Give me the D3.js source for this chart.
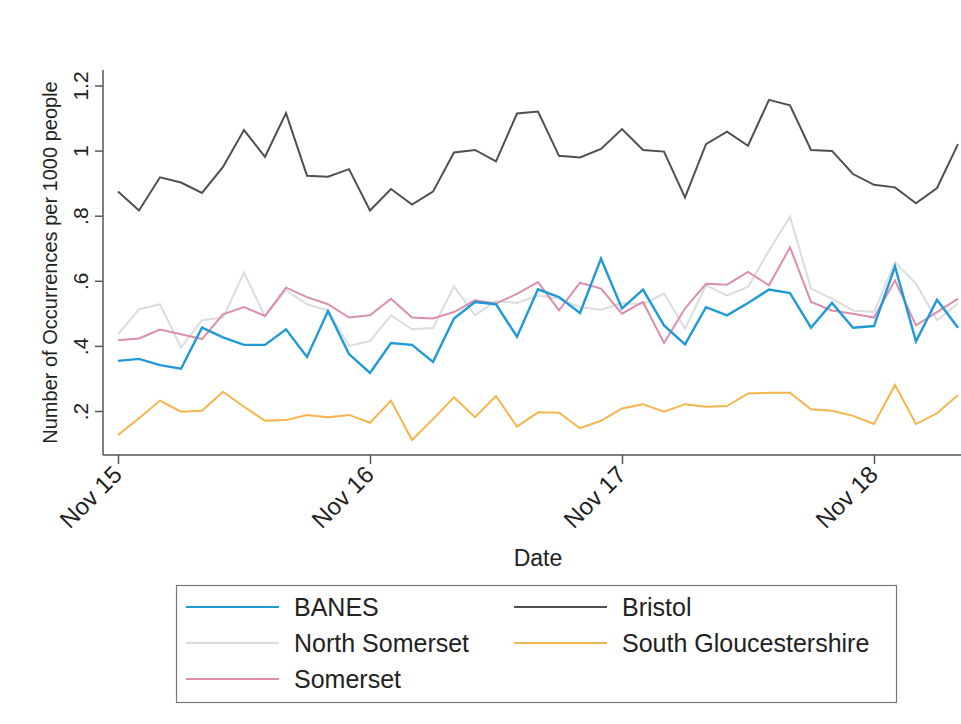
<!DOCTYPE html>
<html>
<head>
<meta charset="utf-8">
<script src="https://cdn.jsdelivr.net/npm/d3@7"></script>
<style>
  body { margin: 0; background: #fff; }
  svg text { font-family: "Liberation Sans", Arial, Helvetica, sans-serif; }
</style>
</head>
<body>
<div id="chart"></div>
<script>
const width = 961;
const height = 724;

const months = [
  "2015-11", "2015-12", "2016-01", "2016-02", "2016-03", "2016-04", "2016-05", "2016-06",
  "2016-07", "2016-08", "2016-09", "2016-10", "2016-11", "2016-12", "2017-01", "2017-02",
  "2017-03", "2017-04", "2017-05", "2017-06", "2017-07", "2017-08", "2017-09", "2017-10",
  "2017-11", "2017-12", "2018-01", "2018-02", "2018-03", "2018-04", "2018-05", "2018-06",
  "2018-07", "2018-08", "2018-09", "2018-10", "2018-11", "2018-12", "2019-01", "2019-02",
  "2019-03"
];
const xTicks = ["2015-11", "2016-11", "2017-11", "2018-11"];
const yTicks = [0.2, 0.4, 0.6, 0.8, 1, 1.2];

const banes = [
  0.354, 0.360, 0.341, 0.330, 0.456, 0.426, 0.403, 0.403, 0.451, 0.366, 0.507, 0.375,
  0.317, 0.409, 0.403, 0.351, 0.484, 0.535, 0.528, 0.428, 0.574, 0.550, 0.501, 0.668,
  0.515, 0.573, 0.463, 0.405, 0.519, 0.494, 0.532, 0.573, 0.562, 0.456, 0.532, 0.456,
  0.461, 0.644, 0.414, 0.542, 0.456
];
const bristol = [
  0.874, 0.816, 0.918, 0.902, 0.870, 0.950, 1.063, 0.981, 1.115, 0.923, 0.920, 0.943,
  0.816, 0.882, 0.834, 0.874, 0.994, 1.002, 0.967, 1.114, 1.120, 0.984, 0.979, 1.005,
  1.066, 1.002, 0.997, 0.856, 1.020, 1.058, 1.015, 1.156, 1.139, 1.002, 0.999, 0.928,
  0.895, 0.887, 0.838, 0.885, 1.020
];
const northSomerset = [
  0.436, 0.512, 0.528, 0.395, 0.479, 0.487, 0.625, 0.491, 0.571, 0.528, 0.509, 0.400,
  0.415, 0.494, 0.451, 0.455, 0.583, 0.494, 0.538, 0.532, 0.555, 0.545, 0.519, 0.511,
  0.532, 0.528, 0.561, 0.453, 0.586, 0.555, 0.581, 0.693, 0.797, 0.576, 0.545, 0.509,
  0.504, 0.657, 0.591, 0.479, 0.530
];
const somerset = [
  0.417, 0.423, 0.450, 0.436, 0.421, 0.497, 0.519, 0.492, 0.579, 0.550, 0.528, 0.487,
  0.494, 0.545, 0.487, 0.484, 0.504, 0.540, 0.530, 0.560, 0.596, 0.509, 0.594, 0.576,
  0.499, 0.535, 0.409, 0.515, 0.591, 0.588, 0.627, 0.586, 0.703, 0.535, 0.509, 0.499,
  0.487, 0.601, 0.463, 0.504, 0.545
];
const southGlos = [
  0.126, 0.178, 0.232, 0.198, 0.201, 0.259, 0.213, 0.170, 0.172, 0.188, 0.181, 0.188,
  0.164, 0.232, 0.111, 0.175, 0.242, 0.181, 0.246, 0.152, 0.196, 0.195, 0.147, 0.170,
  0.208, 0.221, 0.198, 0.221, 0.213, 0.215, 0.254, 0.256, 0.256, 0.205, 0.201, 0.185,
  0.160, 0.280, 0.160, 0.193, 0.249
];

const series = [
  { name: "BANES", values: banes, color: "#1f9ad6", width: 2.4 },
  { name: "Bristol", values: bristol, color: "#505050", width: 2 },
  { name: "North Somerset", values: northSomerset, color: "#dadcde", width: 2 },
  { name: "South Gloucestershire", values: southGlos, color: "#f6b44c", width: 2 },
  { name: "Somerset", values: somerset, color: "#db8fad", width: 2 }
];
// draw order: light ones first, so the blue sits on top
const drawOrder = ["North Somerset", "South Gloucestershire", "Somerset", "Bristol", "BANES"];

const svg = d3.select("#chart")
  .append("svg")
  .attr("width", width)
  .attr("height", height)
  .attr("viewBox", `0 0 ${width} ${height}`);

svg.append("rect")
  .attr("width", width)
  .attr("height", height)
  .attr("fill", "#ffffff");

const x = d3.scalePoint().domain(months).range([118, 958]);
const y = d3.scaleLinear().domain([0.2, 1.2]).range([411, 85.5]);

const axisColor = "#555555";
const plotTop = 70;
const plotBottom = 455;
const plotLeft = 103;

// y axis
const yAxis = svg.append("g")
  .attr("transform", `translate(${plotLeft},0)`)
  .call(d3.axisLeft(y)
    .tickValues(yTicks)
    .tickSize(8)
    .tickFormat(d => String(+d.toFixed(1)).replace(/^0/, "")));
yAxis.select(".domain").remove();
yAxis.selectAll(".tick line").attr("stroke", axisColor).attr("stroke-width", 1.5);
yAxis.selectAll(".tick text")
  .attr("x", null).attr("dy", null)
  .attr("transform", "translate(-15,0) rotate(-90)")
  .attr("text-anchor", "middle")
  .style("font-size", "21px")
  .attr("fill", "#222");
svg.append("line")
  .attr("x1", plotLeft).attr("x2", plotLeft)
  .attr("y1", plotTop).attr("y2", plotBottom)
  .attr("stroke", axisColor).attr("stroke-width", 1.5);

// x axis
const xAxis = svg.append("g")
  .attr("transform", `translate(0,${plotBottom})`)
  .call(d3.axisBottom(x)
    .tickValues(xTicks)
    .tickSize(9)
    .tickFormat(d => "Nov " + d.slice(2, 4)));
xAxis.select(".domain").remove();
xAxis.selectAll(".tick line").attr("stroke", axisColor).attr("stroke-width", 1.5);
xAxis.selectAll(".tick text")
  .attr("y", null).attr("dy", null)
  .attr("transform", "translate(5,21) rotate(-45)")
  .attr("text-anchor", "end")
  .style("font-size", "24px")
  .attr("fill", "#222");
svg.append("line")
  .attr("x1", plotLeft).attr("x2", width)
  .attr("y1", plotBottom).attr("y2", plotBottom)
  .attr("stroke", axisColor).attr("stroke-width", 1.5);

// axis titles
svg.append("text")
  .attr("transform", `translate(57,${(plotTop + plotBottom) / 2}) rotate(-90)`)
  .attr("text-anchor", "middle")
  .style("font-size", "20px")
  .attr("fill", "#222")
  .text("Number of Occurrences per 1000 people");

svg.append("text")
  .attr("x", 538)
  .attr("y", 566)
  .attr("text-anchor", "middle")
  .style("font-size", "23px")
  .attr("fill", "#222")
  .text("Date");

// lines
const line = d3.line()
  .x((d, i) => x(months[i]))
  .y(d => y(d));

const lines = svg.append("g").attr("fill", "none");
drawOrder.forEach(name => {
  const s = series.find(s => s.name === name);
  lines.append("path")
    .datum(s.values)
    .attr("d", line)
    .attr("stroke", s.color)
    .attr("stroke-width", s.width)
    .attr("stroke-linejoin", "miter");
});

// legend
const legend = svg.append("g");
legend.append("rect")
  .attr("x", 176.5)
  .attr("y", 585.5)
  .attr("width", 720)
  .attr("height", 117)
  .attr("fill", "#fff")
  .attr("stroke", "#777")
  .attr("stroke-width", 1.2);

const legendItems = [
  { name: "BANES", col: 0, row: 0 },
  { name: "Bristol", col: 1, row: 0 },
  { name: "North Somerset", col: 0, row: 1 },
  { name: "South Gloucestershire", col: 1, row: 1 },
  { name: "Somerset", col: 0, row: 2 }
];
legendItems.forEach(item => {
  const s = series.find(s => s.name === item.name);
  const lx = item.col === 0 ? 186 : 514;
  const ly = 607 + item.row * 36;
  legend.append("line")
    .attr("x1", lx).attr("x2", lx + 93)
    .attr("y1", ly).attr("y2", ly)
    .attr("stroke", s.color)
    .attr("stroke-width", 2);
  legend.append("text")
    .attr("x", lx + 108)
    .attr("y", ly + 9)
    .style("font-size", "25px")
    .attr("fill", "#222")
    .text(s.name);
});
</script>
</body>
</html>
